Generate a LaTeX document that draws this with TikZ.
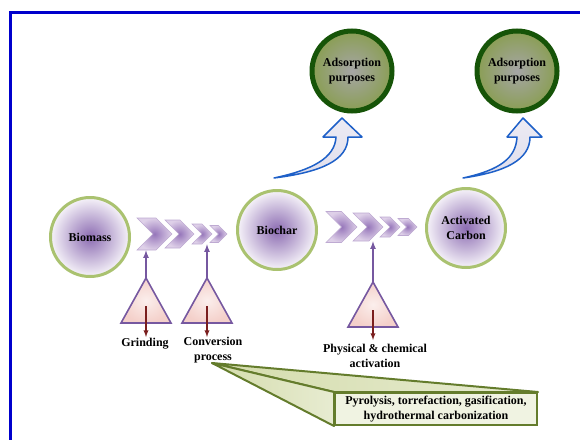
\documentclass[tikz,border=0pt]{standalone}
\usepackage{fontspec}
\setmainfont{Liberation Serif}
\usetikzlibrary{shapes.symbols}
\usetikzlibrary{calc,shapes.geometric}

\definecolor{frameblue}{RGB}{0,0,204}
\definecolor{ringgreen}{RGB}{170,194,112}
\definecolor{corepurple}{RGB}{140,108,178}
\definecolor{palepurple}{RGB}{246,243,249}
\definecolor{darkgreen}{RGB}{22,84,8}
\definecolor{olive}{RGB}{138,158,84}
\definecolor{chevedge}{RGB}{190,170,210}
\definecolor{chevcore}{RGB}{150,118,186}
\definecolor{chevpale}{RGB}{222,208,232}
\definecolor{tripink}{RGB}{244,208,202}
\definecolor{triedge}{RGB}{118,88,160}
\definecolor{downred}{RGB}{122,30,30}
\definecolor{calledge}{RGB}{100,124,44}
\definecolor{callfill}{RGB}{212,220,172}
\definecolor{arrowblue}{RGB}{30,96,200}
\definecolor{arrowfill}{RGB}{224,222,236}

\tikzset{
	stage/.style={circle, draw=ringgreen, line width=3pt, minimum size=79pt, inner sep=0pt,
		shading=radial, inner color=corepurple, outer color=palepurple, align=center},
	usage/.style={circle, draw=darkgreen, line width=5pt, minimum size=80pt, inner sep=0pt,
		shading=radial, inner color=gray!70, outer color=olive, align=center},
	chev/.style={signal, signal to=east, signal from=west, draw=chevedge, line width=0.6pt,
		inner sep=0pt, shading=radial, inner color=chevcore, outer color=chevpale},
	tri/.style={draw=triedge, line width=1.6pt, shading=radial, inner color=tripink!35, outer color=tripink},
	feed/.style={->, >=latex, draw=triedge, line width=1.6pt},
	drop/.style={->, >=latex, draw=downred, line width=1.3pt},
	callout/.style={draw=calledge, line width=2pt, line join=round, left color=callfill, right color=callfill!55},
	upbend/.style={draw=arrowblue, line width=1.5pt, line join=round, top color=arrowfill!60, bottom color=arrowfill}
}

\begin{document}
\begin{tikzpicture}[x=1pt, y=-1pt, font=\bfseries\fontsize{12}{14.5}\selectfont]
	\useasboundingbox (0,0) rectangle (580,439);
	\draw[frameblue, line width=3pt] (10,12) rectangle (620,480);

	\node[stage] (biomass) at (90,237) {Biomass};
	\node[stage] (biochar) at (277,230) {Biochar};
	\node[stage] (carbon) at (466,228) {Activated\\Carbon};
	\node[usage] (use1) at (352,71) {Adsorption\\purposes};
	\node[usage] (use2) at (517,71) {Adsorption\\purposes};

	\node[chev, minimum width=35pt, minimum height=32pt] (a1) at (154.5,234) {};
	\node[chev, minimum width=29pt, minimum height=28pt] (a2) at (179.5,234) {};
	\node[chev, minimum width=20pt, minimum height=20pt] (a3) at (202,234) {};
	\node[chev, minimum width=17pt, minimum height=17pt] (a4) at (218.5,234) {};

	\node[chev, minimum width=31pt, minimum height=31pt] (b1) at (341.5,227) {};
	\node[chev, minimum width=30pt, minimum height=28pt] (b2) at (368,227) {};
	\node[chev, minimum width=20pt, minimum height=20pt] (b3) at (390,227) {};
	\node[chev, minimum width=19pt, minimum height=17pt] (b4) at (407.5,227) {};

	\coordinate (grind) at (146,278);
	\coordinate (conv) at (207,278);
	\coordinate (act) at (373,282);

	\shade[tri] (grind) -- ++(25,45) -- ++(-50,0) -- cycle;
	\shade[tri] (conv) -- ++(25,45) -- ++(-50,0) -- cycle;
	\shade[tri] (act) -- ++(25,45) -- ++(-50,0) -- cycle;

	\draw[feed] (grind) -- (grind |- a1.south);
	\draw[feed] (conv) -- (conv |- a3.south);
	\draw[feed] (act) -- (act |- b2.south);

	\draw[drop] ($(grind)+(0,28)$) -- ($(grind)+(0,59)$);
	\draw[drop] ($(conv)+(0,28)$) -- ($(conv)+(0,59)$);
	\draw[drop] ($(act)+(0,28)$) -- ($(act)+(0,58)$);

	\node (grindlbl) at (145,344) {Grinding};
	\node[align=center] (convlbl) at (213,350) {Conversion\\process};
	\node[align=center] (actlbl) at (375,356) {Physical \& chemical\\activation};

	\node[draw=calledge, line width=2pt, fill=callfill!35, minimum width=202pt, minimum height=32pt,
		align=center, inner sep=0pt] (routes) at (436,409) {Pyrolysis, torrefaction, gasification,\\hydrothermal carbonization};
	\coordinate (tip) at (212,363);
	\shade[callout] (tip) -- (routes.north east) -- (routes.north west) -- cycle;
	\shade[callout] (tip) -- (routes.north west) -- (routes.south west) -- cycle;

	\shade[upbend] (274,178) .. controls (322,172) and (348,160) .. (348,137) -- (362,137) -- (342,118)
		-- (323,137) -- (336,137) .. controls (335,158) and (312,170) .. (274,178) -- cycle;
	\shade[upbend] (463,178) .. controls (505,172) and (530,160) .. (530,137) -- (542,137) -- (523,118)
		-- (507,137) -- (517,137) .. controls (516,158) and (500,170) .. (463,178) -- cycle;
\end{tikzpicture}
\end{document}
